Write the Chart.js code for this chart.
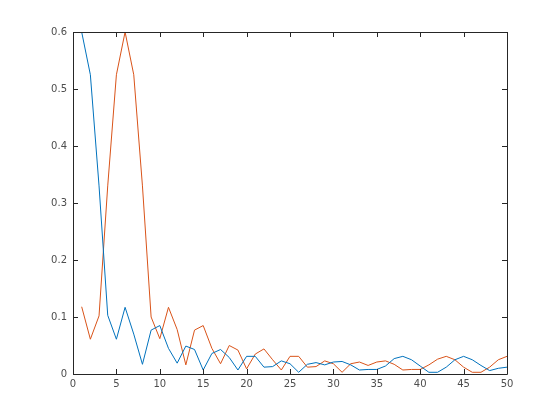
<!DOCTYPE html>
<html>
<head>
<meta charset="utf-8">
<script src="https://cdn.jsdelivr.net/npm/chart.js@4/dist/chart.umd.min.js"></script>
<style>
  html, body { margin: 0; padding: 0; background: #fff; }
  #wrap { width: 560px; height: 420px; }
</style>
</head>
<body>
<div id="wrap"><canvas id="chart" width="560" height="420"></canvas></div>
<script>
// x positions 1..50
const xs = [1,2,3,4,5,6,7,8,9,10,11,12,13,14,15,16,17,18,19,20,21,22,23,24,25,
            26,27,28,29,30,31,32,33,34,35,36,37,38,39,40,41,42,43,44,45,46,47,48,49,50];

// blue series
const blueVals = [0.6,0.525,0.33,0.103,0.061,0.117,0.07,0.017,0.077,0.085,
                  0.045,0.019,0.049,0.043,0.007,0.036,0.043,0.029,0.007,0.031,
                  0.031,0.012,0.013,0.023,0.018,0.003,0.017,0.02,0.016,0.021,
                  0.022,0.016,0.007,0.008,0.008,0.014,0.027,0.031,0.025,0.014,
                  0.003,0.003,0.012,0.025,0.031,0.025,0.015,0.006,0.01,0.012];

// orange series
const orangeVals = [0.118,0.061,0.102,0.33,0.525,0.6,0.525,0.33,0.1,0.062,
                    0.117,0.078,0.016,0.077,0.085,0.045,0.018,0.05,0.042,0.009,
                    0.035,0.044,0.025,0.007,0.031,0.031,0.012,0.013,0.023,0.018,
                    0.003,0.018,0.021,0.015,0.021,0.023,0.017,0.007,0.008,0.008,
                    0.016,0.026,0.031,0.025,0.012,0.003,0.003,0.012,0.025,0.031];

const xTicks = [0,5,10,15,20,25,30,35,40,45,50];
const yTicks = [0,0.1,0.2,0.3,0.4,0.5,0.6];

const axisColor = "#262626";
const tickLen = 5;

// MATLAB-like box with inward ticks on all four sides
const boxPlugin = {
  id: "boxTicks",
  afterDraw(chart) {
    const ctx = chart.ctx;
    const a = chart.chartArea;
    const xs_ = chart.scales.x, ys_ = chart.scales.y;
    ctx.save();
    ctx.strokeStyle = axisColor;
    ctx.lineWidth = 1;
    ctx.beginPath();
    ctx.rect(Math.round(a.left) + 0.5, Math.round(a.top) + 0.5,
             Math.round(a.right - a.left), Math.round(a.bottom - a.top));
    xTicks.forEach(t => {
      const px = Math.round(xs_.getPixelForValue(t)) + 0.5;
      ctx.moveTo(px, a.bottom); ctx.lineTo(px, a.bottom - tickLen);
      ctx.moveTo(px, a.top); ctx.lineTo(px, a.top + tickLen);
    });
    yTicks.forEach(t => {
      const py = Math.round(ys_.getPixelForValue(t)) + 0.5;
      ctx.moveTo(a.left, py); ctx.lineTo(a.left + tickLen, py);
      ctx.moveTo(a.right, py); ctx.lineTo(a.right - tickLen, py);
    });
    ctx.stroke();
    ctx.restore();
  }
};

Chart.defaults.font.family = "'DejaVu Sans', sans-serif";
Chart.defaults.font.size = 10;
Chart.defaults.color = "#4d4d4d";

new Chart(document.getElementById("chart"), {
  type: "line",
  data: {
    datasets: [
      {
        data: xs.map((x, i) => ({ x: x, y: blueVals[i] })),
        borderColor: "#0072BD",
        borderWidth: 1,
        pointRadius: 0,
        tension: 0,
        fill: false
      },
      {
        data: xs.map((x, i) => ({ x: x, y: orangeVals[i] })),
        borderColor: "#D95319",
        borderWidth: 1,
        pointRadius: 0,
        tension: 0,
        fill: false
      }
    ]
  },
  options: {
    responsive: false,
    animation: false,
    layout: { padding: { left: 0, right: 53, top: 32, bottom: 0 } },
    plugins: { legend: { display: false }, tooltip: { enabled: false } },
    scales: {
      x: {
        type: "linear",
        min: 0,
        max: 50,
        afterFit(s) { s.height = 46; },
        afterBuildTicks(s) { s.ticks = xTicks.map(v => ({ value: v })); },
        grid: { display: false, drawTicks: false },
        border: { display: false },
        ticks: { padding: 4, maxRotation: 0, autoSkip: false }
      },
      y: {
        type: "linear",
        min: 0,
        max: 0.6,
        afterFit(s) { s.width = 73; },
        afterBuildTicks(s) { s.ticks = yTicks.map(v => ({ value: v })); },
        grid: { display: false, drawTicks: false },
        border: { display: false },
        ticks: { padding: 6, autoSkip: false, callback: v => String(+v.toFixed(1)) }
      }
    }
  },
  plugins: [boxPlugin]
});
</script>
</body>
</html>
